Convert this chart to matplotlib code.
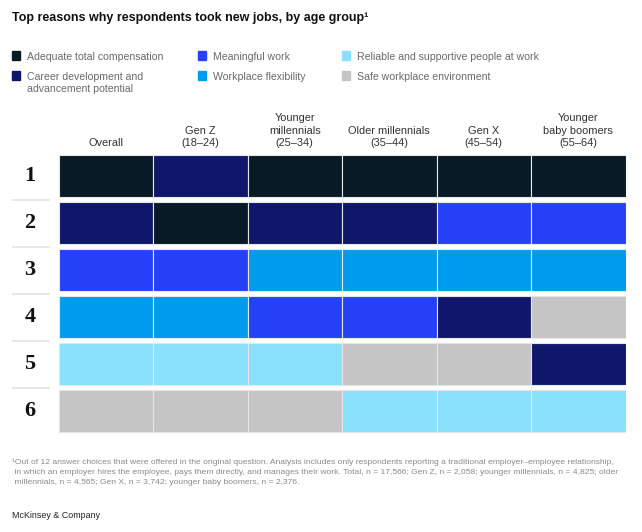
import matplotlib
matplotlib.use("Agg")
import matplotlib.pyplot as plt
from matplotlib.patches import Rectangle
from matplotlib import font_manager

def pick(*names):
    avail = {f.name for f in font_manager.fontManager.ttflist}
    for n in names:
        if n in avail:
            return n
    return "DejaVu Sans"

SANS = pick("Liberation Sans", "Roboto", "DejaVu Sans")
SERIF = pick("Liberation Serif", "DejaVu Serif")

# ---------------- data ----------------
categories = [
    "Adequate total compensation",
    "Career development and\nadvancement potential",
    "Meaningful work",
    "Workplace flexibility",
    "Reliable and supportive people at work",
    "Safe workplace environment",
]
cat_colors = ["#071a26", "#0f176b", "#2541f8", "#009bec", "#8ae1fc", "#c5c5c5"]

groups = [
    "Overall",
    "Gen Z\n(18–24)",
    "Younger\nmillennials\n(25–34)",
    "Older millennials\n(35–44)",
    "Gen X\n(45–54)",
    "Younger\nbaby boomers\n(55–64)",
]
ranks = ["1", "2", "3", "4", "5", "6"]

# index into categories, rank 1..6 for each group
C, D, M, F, R, S = 0, 1, 2, 3, 4, 5
ranking_overall = [C, D, M, F, R, S]
ranking_genz = [D, C, M, F, R, S]
ranking_younger_mill = [C, D, F, M, R, S]
ranking_older_mill = [C, D, F, M, S, R]
ranking_genx = [C, M, F, D, S, R]
ranking_boomers = [C, M, F, S, D, R]
rankings = [ranking_overall, ranking_genz, ranking_younger_mill,
            ranking_older_mill, ranking_genx, ranking_boomers]

# ---------------- figure ----------------
W, H = 642, 532
fig = plt.figure(figsize=(W / 100, H / 100), dpi=100)
fig.patch.set_facecolor("white")

def fx(px):
    return px / W

def fy(py):
    return 1 - py / H

# title
fig.text(fx(12), fy(18), "Top reasons why respondents took new jobs, by age group¹",
         fontsize=9.0, fontweight="bold", family=SANS, color="#111111", va="center", ha="left")

# legend (manual)
leg_sq = [12, 198, 342]
leg_tx = [27, 213, 357]
leg_rows = [55.5, 75.5]
for i, (lab, col) in enumerate(zip(categories, cat_colors)):
    ci = i // 2
    cy = leg_rows[i % 2]
    fig.patches.append(Rectangle((fx(leg_sq[ci]), fy(cy + 4.2)), fx(8.4), 8.4 / H, color=col,
                                 transform=fig.transFigure, figure=fig))
    fig.text(fx(leg_tx[ci]), fy(cy - 4.0), lab, fontsize=7.6, family=SANS, color="#6a6a6a",
             va="top", ha="left", linespacing=1.3)

# grid axes
left_px, right_px = 58.5, 625.5
top_px = 155 - 2.3
pitch = 47
ax = fig.add_axes([fx(left_px), fy(top_px + 6 * pitch), fx(right_px - left_px), 6 * pitch / H])
ax.set_xlim(-0.5, len(groups) - 0.5)
ax.set_ylim(len(ranks) - 0.5, -0.5)
ax.axis("off")

cell_h = 42.5 / 47
for gi, ranking in enumerate(rankings):
    for ri, cat in enumerate(ranking):
        ax.bar(gi, cell_h, bottom=ri - cell_h / 2, width=1.0, color=cat_colors[cat],
               edgecolor="#e6e6e6", linewidth=0.8, align="center")

# column headers
for gi, g in enumerate(groups):
    ax.text(gi, -0.5 - 0.10, g, ha="center", va="bottom", fontsize=7.9, family=SANS,
            color="#333333", linespacing=1.3)

# row labels
for ri, r in enumerate(ranks):
    ax.text(-0.5 - 28.5 / 94.5, ri, r, ha="center", va="center", fontsize=16,
            fontweight="bold", family=SERIF, color="#111111", clip_on=False)
    if ri < len(ranks) - 1:
        ax.plot([-0.5 - 47 / 94.5, -0.5 - 9 / 94.5], [ri + 0.5, ri + 0.5], color="#e3e3e3",
                lw=1.2, clip_on=False, solid_capstyle="butt")

# footnote
foot = ("¹Out of 12 answer choices that were offered in the original question. Analysis includes only "
        "respondents reporting a traditional employer–employee relationship,\n"
        " in which an employer hires the employee, pays them directly, and manages their work. "
        "Total, n = 17,566; Gen Z, n = 2,058; younger millennials, n = 4,825; older\n"
        " millennials, n = 4,565; Gen X, n = 3,742; younger baby boomers, n = 2,376.")
fig.text(fx(12), fy(458), foot, fontsize=6.1, family=SANS, color="#8a8a8a", va="top",
         ha="left", linespacing=1.65)

fig.text(fx(12), fy(515), "McKinsey & Company", fontsize=6.4, family=SANS, color="#222222",
         va="center", ha="left")

fig.savefig("out.png", dpi=100, facecolor="white")
